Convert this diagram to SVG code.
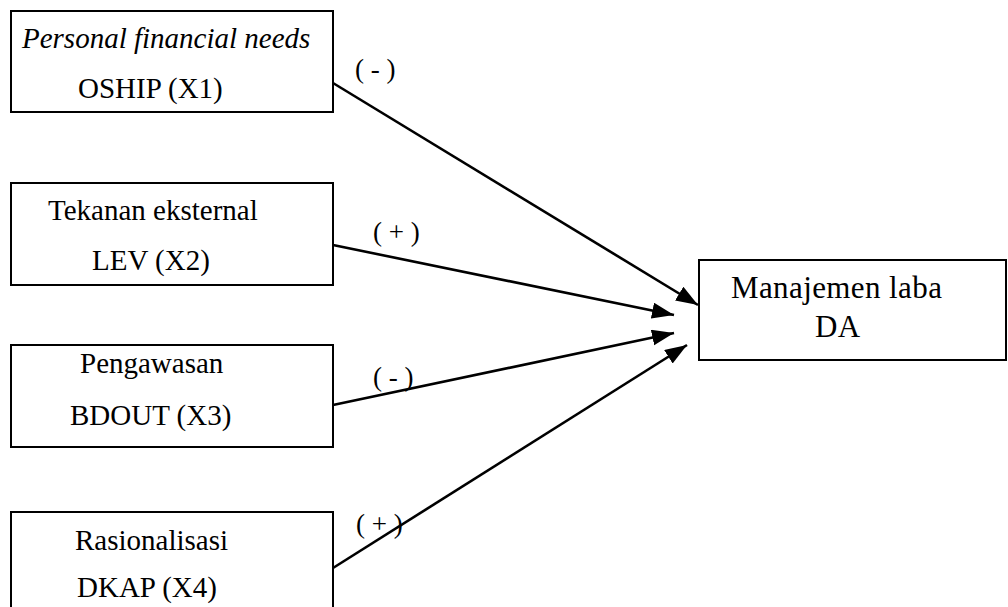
<svg xmlns="http://www.w3.org/2000/svg" width="1008" height="607" viewBox="0 0 1008 607">
<style>
.box{fill:#fff;stroke:#000;stroke-width:2}
.t{font-family:"Liberation Serif","Times New Roman",serif;font-size:29px;fill:#000}
.big{font-size:31px;letter-spacing:0.4px}
.it{font-style:italic}
.lbl{font-family:"Liberation Serif","Times New Roman",serif;font-size:27px;fill:#000}
.con{stroke:#000;stroke-width:2.6;fill:none;marker-end:url(#ah)}
</style>
<defs>
<marker id="ah" markerUnits="userSpaceOnUse" markerWidth="23" markerHeight="17" refX="22" refY="8" orient="auto" viewBox="0 0 23 17">
<path d="M0,0 L22,8 L0,16 z" fill="#000"/>
</marker>
</defs>
<rect width="1008" height="607" fill="#fff"/>
<g id="connectors">
<line class="con" x1="333" y1="83" x2="698" y2="305"/>
<line class="con" x1="333" y1="245" x2="674" y2="315"/>
<line class="con" x1="333" y1="405" x2="674" y2="333"/>
<line class="con" x1="333" y1="568" x2="687" y2="345"/>
<text class="lbl" x="355" y="78">( - )</text>
<text class="lbl" x="373" y="241">( + )</text>
<text class="lbl" x="373" y="386">( - )</text>
<text class="lbl" x="356" y="533">( + )</text>
</g>
<g id="x1">
<rect class="box" x="11" y="11" width="322" height="101"/>
<text class="t it" x="22" y="48">Personal financial needs</text>
<text class="t" x="78" y="98">OSHIP (X1)</text>
</g>
<g id="x2">
<rect class="box" x="11" y="183" width="322" height="102"/>
<text class="t" x="48" y="220">Tekanan eksternal</text>
<text class="t" x="92" y="270">LEV (X2)</text>
</g>
<g id="x3">
<rect class="box" x="11" y="345" width="322" height="102"/>
<text class="t" x="80" y="373">Pengawasan</text>
<text class="t" x="70" y="425">BDOUT (X3)</text>
</g>
<g id="x4">
<rect class="box" x="11" y="512" width="322" height="110"/>
<text class="t" x="75" y="550">Rasionalisasi</text>
<text class="t" x="77" y="597">DKAP (X4)</text>
</g>
<g id="y">
<rect class="box" x="699" y="260" width="307" height="100"/>
<text class="t big" x="731" y="298">Manajemen laba</text>
<text class="t big" x="815" y="337">DA</text>
</g>
</svg>
